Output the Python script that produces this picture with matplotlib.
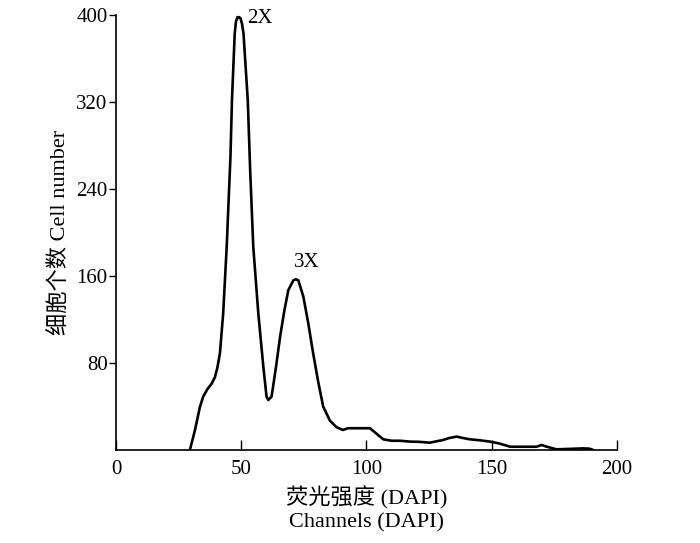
import matplotlib
matplotlib.use('Agg')
import matplotlib.pyplot as plt

plt.rcParams['font.family'] = ['Liberation Serif', 'Noto Sans CJK SC']

# DAPI histogram
channels = [29.5, 31.5, 33.5, 34.8, 36.5, 38.2, 39.5, 40.5, 41.5, 42.8, 44.2, 45.3, 45.7,
            46.3, 47.4, 47.9, 48.5, 49.1, 49.7, 50.3, 50.9, 52.6, 53.6, 54.8, 56.8, 58.8,
            60.1, 60.8, 62.1, 63.8, 65.5, 67.2, 68.8, 70.8, 71.8, 72.8, 74.8, 76.8, 78.7,
            80.7, 82.7, 85.4, 88, 90.6, 92.6, 95, 98, 101.4, 104, 106.7, 110, 113.4, 117.4,
            121, 125.3, 128, 130.6, 133, 136, 138.5, 141.3, 145, 149.3, 153, 157.3, 162,
            167.9, 169.9, 172, 175.9, 181, 186.5, 189, 190.5]
counts = [0, 18, 39.5, 49, 56, 61, 67, 76, 89, 126, 187, 248, 270,
          322, 383, 394, 398, 398, 397, 392, 383, 322, 255, 187, 126, 77,
          49, 46, 49, 75, 104, 128, 147, 156, 157, 156, 141, 116, 89,
          63, 40, 27, 21, 18.4, 20, 20, 20, 20, 15, 9.8, 8.5, 8.5, 7.7,
          7.5, 6.7, 8, 9.2, 11, 12.3, 11, 9.8, 9, 7.7, 6, 3, 3,
          3, 4.6, 3, 0.6, 1, 1.5, 1.2, 0]

fig = plt.figure(figsize=(7, 5.43), dpi=100)
ax = fig.add_axes([0.1657, 0.1713, 0.7157, 0.8011])

ax.plot(channels, counts, color='black', lw=1.9, solid_joinstyle='round')

ax.set_xlim(0, 200)
ax.set_ylim(0, 400)
ax.set_xticks([0, 50, 100, 150, 200])
ax.set_yticks([80, 160, 240, 320, 400])
ax.tick_params(axis='x', direction='in', length=7, width=1, labelsize=15, pad=7)
ax.tick_params(axis='y', direction='out', length=5, width=1, labelsize=15, pad=1)

for s in ['top', 'right']:
    ax.spines[s].set_visible(False)
for s in ['left', 'bottom']:
    ax.spines[s].set_linewidth(1.2)

ax.text(52.5, 397, '2X', fontsize=15, va='center', ha='left')
ax.text(71.2, 172, '3X', fontsize=15, va='center', ha='left')

ax.set_xlabel('荧光强度 (DAPI)\nChannels (DAPI)', fontsize=16, linespacing=1.3, labelpad=5)
ax.set_ylabel('细胞个数 Cell number', fontsize=16, labelpad=4.5)

fig.savefig('out.png', dpi=100)
